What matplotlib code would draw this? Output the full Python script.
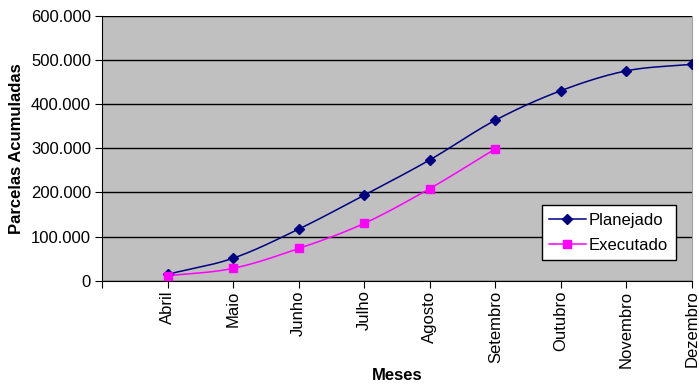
import numpy as np
import matplotlib
matplotlib.use("Agg")
import matplotlib.pyplot as plt
from matplotlib.ticker import FuncFormatter

plt.rcParams['font.family'] = ['Liberation Sans', 'DejaVu Sans']

meses = ["Abril", "Maio", "Junho", "Julho", "Agosto", "Setembro",
         "Outubro", "Novembro", "Dezembro"]
planejado = [14500, 51000, 117000, 194000, 274000, 364000, 431000, 476000, 491000]
executado = [11000, 28000, 73000, 130000, 209000, 299000]


def smooth(xs, ys, n=20):
    """Catmull-Rom style smoothing (like Excel smoothed lines)."""
    xs = np.asarray(xs, float)
    ys = np.asarray(ys, float)
    px = np.concatenate([[2 * xs[0] - xs[1]], xs, [2 * xs[-1] - xs[-2]]])
    py = np.concatenate([[2 * ys[0] - ys[1]], ys, [2 * ys[-1] - ys[-2]]])
    ox, oy = [], []
    t = np.linspace(0, 1, n, endpoint=False)
    for i in range(1, len(px) - 2):
        for arr, out in ((px, ox), (py, oy)):
            p0, p1, p2, p3 = arr[i - 1], arr[i], arr[i + 1], arr[i + 2]
            out.extend(0.5 * ((2 * p1) + (-p0 + p2) * t
                              + (2 * p0 - 5 * p1 + 4 * p2 - p3) * t ** 2
                              + (-p0 + 3 * p1 - 3 * p2 + p3) * t ** 3))
    ox.append(xs[-1]); oy.append(ys[-1])
    return np.array(ox), np.array(oy)


fig = plt.figure(figsize=(6.99, 3.85), dpi=100)
ax = fig.add_axes([0.146, 0.271, 0.844, 0.687])
ax.set_facecolor("#C0C0C0")

xp = np.arange(1, len(planejado) + 1)
xe = np.arange(1, len(executado) + 1)

sx, sy = smooth(xp, planejado)
ax.plot(sx, sy, color="#000080", lw=1.1, zorder=3)
ax.plot(xp, planejado, ls="none", marker="D", ms=5, color="#000080", zorder=4)
sx, sy = smooth(xe, executado)
ax.plot(sx, sy, color="#FF00FF", lw=1.1, zorder=3)
ax.plot(xe, executado, ls="none", marker="s", ms=6, color="#FF00FF", zorder=4)

# legend proxies
ax.plot([], [], color="#000080", lw=1.1, marker="D", ms=5, label="Planejado")
ax.plot([], [], color="#FF00FF", lw=1.1, marker="s", ms=6, label="Executado")

ax.set_xlim(0, len(meses))
ax.set_ylim(0, 600000)
ax.set_yticks(np.arange(0, 600001, 100000))
ax.yaxis.set_major_formatter(FuncFormatter(
    lambda v, p: "0" if v == 0 else f"{int(v):,}".replace(",", ".")))
ax.set_xticks(np.arange(0, len(meses) + 1))
ax.set_xticklabels([""] + meses, rotation=90, va="top", ha="center")
ax.grid(axis="y", color="black", lw=1.0, zorder=1)
ax.set_axisbelow(True)

ax.spines["top"].set_visible(False)
ax.spines["right"].set_color("#A0A0A0")
ax.spines["left"].set_color("black")
ax.spines["bottom"].set_color("black")
ax.tick_params(axis="both", direction="out", length=5, labelsize=12, colors="black")
ax.tick_params(axis="x", pad=2)
ax.tick_params(axis="y", pad=3)

ax.set_ylabel("Parcelas Acumuladas", fontsize=12, fontweight="bold", labelpad=5)
ax.set_xlabel("Meses", fontsize=12, fontweight="bold", labelpad=0)

leg = ax.legend(loc="lower left", bbox_to_anchor=(0.745, 0.078), fontsize=12,
                frameon=True, fancybox=False, edgecolor="black",
                framealpha=1, handlelength=2.2, borderpad=0.45, labelspacing=0.6,
                handletextpad=0.2, borderaxespad=0)
leg.get_frame().set_linewidth(1.0)

fig.savefig("out.png", dpi=100)
